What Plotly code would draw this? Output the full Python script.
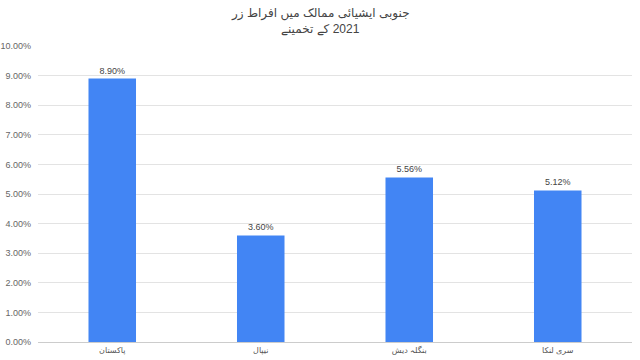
import plotly.graph_objects as go

countries = ["پاکستان", "نیپال", "بنگلہ دیش", "سری لنکا"]
inflation = [8.90, 3.60, 5.56, 5.12]
y_ticks = [0, 1, 2, 3, 4, 5, 6, 7, 8, 9, 10]
y_tick_text = [f"{v:.2f}%" for v in y_ticks]
title_line1 = "جنوبی ایشیائی ممالک میں افراط زر"
title_line2 = "\u200f2021 کے تخمینے"

FONT = "Arial, Liberation Sans, DejaVu Sans, sans-serif"

fig = go.Figure(
    go.Bar(
        x=countries,
        y=inflation,
        marker=dict(color="#4285F4", line=dict(width=0)),
        texttemplate="%{y:.2f}%",
        textposition="outside",
        textfont=dict(size=9, color="#444444", family=FONT),
        cliponaxis=False,
    )
)

fig.update_layout(
    width=640,
    height=360,
    margin=dict(l=38, r=8, t=46, b=18),
    paper_bgcolor="white",
    plot_bgcolor="white",
    bargap=0.68,
    showlegend=False,
    font=dict(family=FONT),
)

for txt, shift in [(title_line1, 23), (title_line2, 8)]:
    fig.add_annotation(
        text=txt,
        xref="paper",
        yref="paper",
        x=(320 - 38) / 594,
        y=1,
        xanchor="center",
        yanchor="bottom",
        yshift=shift,
        showarrow=False,
        font=dict(size=12, color="#444444", family=FONT),
    )

fig.update_yaxes(
    range=[0, 10],
    tickvals=y_ticks,
    ticktext=y_tick_text,
    tickfont=dict(size=9, color="#666666"),
    gridcolor="#e3e3e3",
    gridwidth=1,
    zeroline=False,
    showline=False,
    ticks="",
    ticklabelstandoff=6,
    automargin=False,
)
fig.update_xaxes(
    tickfont=dict(size=8, color="#555555"),
    showline=True,
    linecolor="#cccccc",
    linewidth=1,
    ticks="",
    automargin=False,
)

fig.write_html("out.html")
